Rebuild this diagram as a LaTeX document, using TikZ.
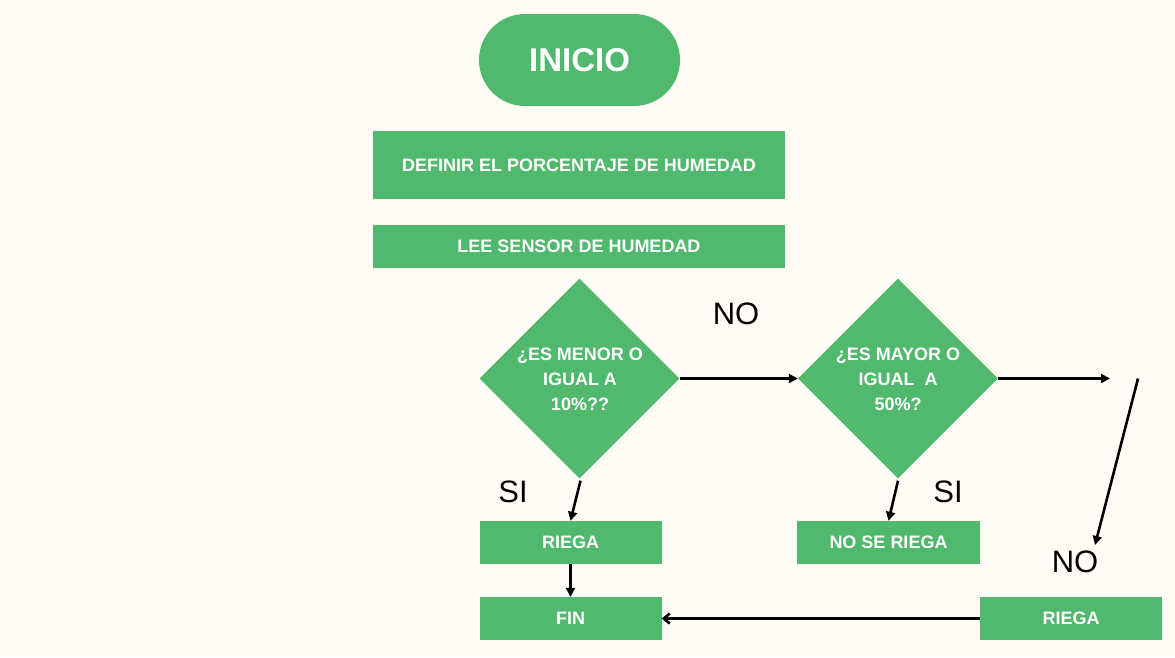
\documentclass[tikz,border=0pt]{standalone}
\usepackage{fontspec}
\setmainfont{Liberation Sans}
\usetikzlibrary{shapes.geometric,shapes.misc,arrows.meta}
\definecolor{bg}{HTML}{FFFCF5}
\definecolor{grn}{HTML}{50B96E}
\tikzset{
  box/.style={fill=grn,draw=none,inner sep=0pt,text=white,font=\bfseries\fontsize{18}{21}\selectfont},
  dia/.style={fill=grn,draw=none,diamond,inner sep=0pt,minimum width=200pt,minimum height=200pt},
  dtext/.style={text=white,inner sep=0pt,font=\bfseries\fontsize{18}{25}\selectfont,align=center},
  lbl/.style={font=\fontsize{31}{34}\selectfont,text=black},
  conn/.style={draw=black,line width=2.6pt,-{Triangle[length=9pt,width=9pt]}},
  back/.style={draw=black,line width=2.6pt,-{Straight Barb[length=6pt,width=10pt]}},
}
\begin{document}
\begin{tikzpicture}[x=1pt,y=-1pt]
\fill[bg] (0,0) rectangle (1175,657);
\useasboundingbox (0,0) rectangle (1175,657);
\node[fill=grn,rounded rectangle,minimum width=201pt,minimum height=92pt,inner sep=0pt,text=white,font=\bfseries\fontsize{33}{38}\selectfont] (ini) at (579.5,60) {INICIO};
\node[box,minimum width=412pt,minimum height=68pt] (def) at (579,165) {DEFINIR EL PORCENTAJE DE HUMEDAD};
\node[box,minimum width=412pt,minimum height=43pt] (lee) at (579,246.5) {LEE SENSOR DE HUMEDAD};
\node[dia] (d1) at (579.5,378.5) {};
\node[dtext] (t1) at (580,379) {¿ES MENOR O\\IGUAL  A\\10\%??};
\node[dia] (d2) at (898,378.5) {};
\node[dtext] (t2) at (898,379) {¿ES MAYOR O\\IGUAL\ \ A\\50\%?};
\node[box,minimum width=182pt,minimum height=43pt] (r1) at (570.5,542.5) {RIEGA};
\node[box,minimum width=182pt,minimum height=43pt] (fin) at (570.5,618.5) {FIN};
\node[box,minimum width=183pt,minimum height=43pt] (nsr) at (888.5,542.5) {NO SE RIEGA};
\node[box,minimum width=182pt,minimum height=43pt] (r2) at (1071,618.5) {RIEGA};
\node[lbl] (no1) at (736,314) {NO};
\node[lbl] (si1) at (513,492) {SI};
\node[lbl] (si2) at (948,492) {SI};
\node[lbl] (no2) at (1075,562) {NO};
\coordinate (e1) at (1110,378.5);
\coordinate (s2) at (1138,378.5);
\coordinate (e2) at (1095,545);
\path[conn] (d1.east) -- (d2.west);
\path[conn] (d2.east) -- (e1);
\path[conn] (s2) -- (e2);
\path[conn] (d1.south) ++(1,2) -- (r1.north);
\path[conn] (d2.south) ++(0,2) -- (nsr.north);
\path[conn] (r1.south) -- (fin.north);
\path[back] (r2.west) -- (fin.east);
\end{tikzpicture}
\end{document}
